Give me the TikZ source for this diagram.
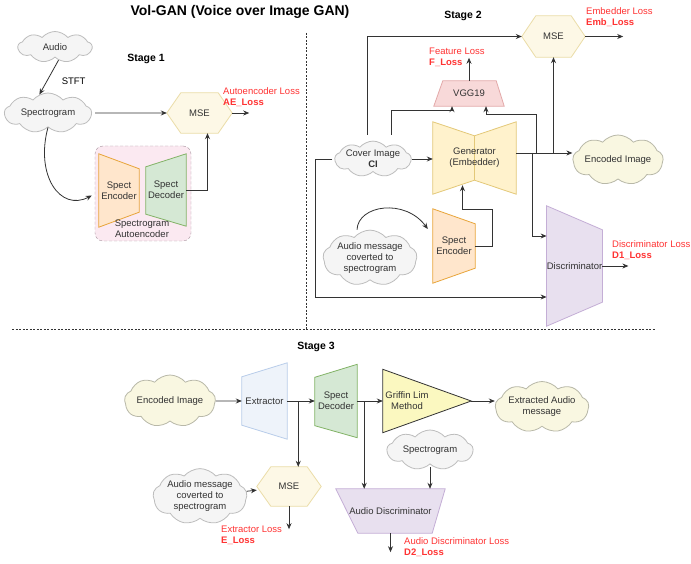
\documentclass[tikz,border=0pt]{standalone}
\usepackage{fontspec}
\setmainfont{Liberation Sans}
\usepackage{xcolor}
\usepackage{tikz}
\usetikzlibrary{shapes,arrows.meta,positioning,calc,backgrounds}
\pgfdeclarelayer{paper}
\pgfsetlayers{paper,background,main}

\definecolor{txt}{HTML}{333333}
\definecolor{lossred}{HTML}{FF3333}
\definecolor{cloudfill}{HTML}{F5F5F5}
\definecolor{cloudline}{HTML}{BDBDBD}
\definecolor{imgfill}{HTML}{F9F7E1}
\definecolor{imgline}{HTML}{B8B8A8}
\definecolor{msefill}{HTML}{FDF8E6}
\definecolor{mseline}{HTML}{EBDDA8}
\definecolor{encfill}{HTML}{FFE6CC}
\definecolor{encline}{HTML}{E8A53A}
\definecolor{decfill}{HTML}{D5E8D4}
\definecolor{decline}{HTML}{82B366}
\definecolor{genfill}{HTML}{FFF2CC}
\definecolor{genline}{HTML}{E3C878}
\definecolor{vggfill}{HTML}{F8D9D9}
\definecolor{vggline}{HTML}{E3A9A9}
\definecolor{discfill}{HTML}{E8E0EF}
\definecolor{discline}{HTML}{C4AED6}
\definecolor{extfill}{HTML}{EEF3FA}
\definecolor{extline}{HTML}{B9CDEA}
\definecolor{glfill}{HTML}{FBF8C0}
\definecolor{boxfill}{HTML}{FBE9F1}
\definecolor{boxline}{HTML}{A8959F}

\begin{document}
\begin{tikzpicture}[x=1pt, y=-1pt, font=\fontsize{9.5}{11}\selectfont, text=txt,
    arr/.style={draw=txt, line width=0.8pt, -{Stealth[length=6pt,width=5pt]}},
    cloudbox/.style={cloud, cloud puffs=9, cloud puff arc=100, cloud ignores aspect, draw=cloudline, fill=cloudfill, line width=0.8pt, inner sep=0pt, align=center},
    imgcloud/.style={cloudbox, fill=imgfill, draw=imgline},
    block/.style={inner sep=0pt, align=center},
    loss/.style={anchor=west, align=left, text=lossred, inner sep=0pt},
    stage/.style={font=\fontsize{10.5}{12}\selectfont\bfseries, text=black},
    sep/.style={draw=txt, line width=0.7pt, dash pattern=on 2pt off 1.5pt},
    shapeline/.style={line width=0.8pt}]
    \begin{pgfonlayer}{paper}
        \path[fill=white, use as bounding box] (0,0) rectangle (691,564);
    \end{pgfonlayer}

    \node[font=\fontsize{14}{16}\selectfont\bfseries, text=black] (title) at (240,12) {Vol-GAN (Voice over Image GAN)};

    % separators between the stages
    \draw[sep] (306,33) -- (306,329);
    \draw[sep] (12,329) -- (656,329);

    % stage 1
    \node[stage] (st1) at (146,59) {Stage 1};
    \node[cloudbox, minimum width=74, minimum height=31] (audio1) at (55,47) {Audio};
    \node[cloudbox, minimum width=87, minimum height=40] (spec1) at (48,113) {Spectrogram};
    \node[block, minimum width=65, minimum height=40] (mse1) at (199.5,113) {MSE};
    \node[loss] (aeloss) at (223,97.5) {Autoencoder Loss\\\textbf{AE\_Loss}};
    \node[block, minimum width=40, minimum height=73] (enc1) at (119,190.5) {Spect\\Encoder};
    \node[block, minimum width=40, minimum height=72] (dec1) at (166,190) {Spect\\Decoder};
    \node[block] (aetext) at (142,229) {Spectrogram\\Autoencoder};

    % stage 2
    \node[stage] (st2) at (463,16) {Stage 2};
    \node[block, minimum width=63, minimum height=41] (mse2) at (553.5,36.5) {MSE};
    \node[loss] (embloss) at (586,17.5) {Embedder Loss\\\textbf{Emb\_Loss}};
    \node[block, minimum width=70, minimum height=25] (vgg) at (469,93.5) {VGG19};
    \node[loss] (floss) at (429,57.5) {Feature Loss\\\textbf{F\_Loss}};
    \node[block, minimum width=83, minimum height=72] (gen) at (474.5,158) {Generator\\(Embedder)};
    \node[cloudbox, minimum width=75, minimum height=32] (cover) at (373,159) {Cover Image\\\textbf{CI}};
    \node[block, minimum width=42, minimum height=74] (enc2) at (454,246) {Spect\\Encoder};
    \node[cloudbox, minimum width=94, minimum height=52] (amsg2) at (370,258) {Audio message\\coverted to\\spectrogram};
    \node[imgcloud, minimum width=90, minimum height=50] (encimg2) at (618,160) {Encoded Image};
    \node[block, minimum width=55, minimum height=120] (disc) at (574.5,266) {Discriminator};
    \node[loss] (d1loss) at (612,250.5) {Discriminator Loss\\\textbf{D1\_Loss}};

    % stage 3
    \node[stage] (st3) at (316,347) {Stage 3};
    \node[imgcloud, minimum width=91, minimum height=52] (encimg3) at (170,401) {Encoded Image};
    \node[block, minimum width=45, minimum height=76] (ext) at (264.5,401) {Extractor};
    \node[block, minimum width=42, minimum height=73] (dec3) at (336,401) {Spect\\Decoder};
    \node[block, minimum width=48, minimum height=63] (gl) at (407,401) {Griffin Lim\\Method};
    \coordinate (glapex) at ($(gl.east)+(40,0)$);
    \node[imgcloud, minimum width=92, minimum height=51] (extr) at (542,407) {Extracted Audio\\message};
    \node[cloudbox, minimum width=86, minimum height=40] (spec3) at (430,450) {Spectrogram};
    \node[block, minimum width=109, minimum height=44] (adisc) at (390.5,511) {Audio Discriminator};
    \node[block, minimum width=64, minimum height=39] (mse3) at (289,486.5) {MSE};
    \node[cloudbox, minimum width=94, minimum height=53] (amsg3) at (200,496.5) {Audio message\\coverted to\\spectrogram};
    \node[loss] (eloss) at (221,535.5) {Extractor Loss\\\textbf{E\_Loss}};
    \node[loss] (d2loss) at (404,547.5) {Audio Discriminator Loss\\\textbf{D2\_Loss}};

    % block outlines go under the labels
    \begin{scope}[on background layer]
        \node[draw=boxline, fill=boxfill, dash pattern=on 3pt off 2pt, rounded corners=8pt, minimum width=96, minimum height=95] (aebox) at (143,193.5) {};
        \foreach \m in {mse1,mse2,mse3}
            \draw[shapeline, draw=mseline, fill=msefill] (\m.west) -- ($(\m.north west)+(14,0)$) -- ($(\m.north east)+(-14,0)$)
                -- (\m.east) -- ($(\m.south east)+(-14,0)$) -- ($(\m.south west)+(14,0)$) -- cycle;
        \foreach \e in {enc1,enc2}
            \draw[shapeline, draw=encline, fill=encfill] (\e.north west) -- ($(\e.north east)+(0,15)$) -- ($(\e.south east)+(0,-15)$) -- (\e.south west) -- cycle;
        \foreach \d in {dec1,dec3}
            \draw[shapeline, draw=decline, fill=decfill] (\d.north east) -- ($(\d.north west)+(0,13)$) -- ($(\d.south west)+(0,-12)$) -- (\d.south east) -- cycle;
        \draw[shapeline, draw=genline, fill=genfill] (gen.north west) -- ($(gen.north)+(0,14)$) -- (gen.north east) -- (gen.south east)
            -- ($(gen.south)+(0,-14)$) -- (gen.south west) -- cycle;
        \draw[shapeline, draw=genline] ($(gen.north)+(0,14)$) -- ($(gen.south)+(0,-14)$);
        \draw[shapeline, draw=vggline, fill=vggfill] (vgg.south west) -- ($(vgg.north west)+(9,0)$) -- ($(vgg.north east)+(-8,0)$) -- (vgg.south east) -- cycle;
        \draw[shapeline, draw=discline, fill=discfill] (disc.north west) -- ($(disc.north east)+(0,24)$) -- ($(disc.south east)+(0,-24)$) -- (disc.south west) -- cycle;
        \draw[shapeline, draw=extline, fill=extfill] (ext.north east) -- ($(ext.north west)+(0,14)$) -- ($(ext.south west)+(0,-14)$) -- (ext.south east) -- cycle;
        \draw[shapeline, draw=txt, fill=glfill] (gl.north west) -- (glapex) -- (gl.south west) -- cycle;
        \draw[shapeline, draw=discline, fill=discfill] (adisc.north west) -- (adisc.north east) -- ($(adisc.south east)+(-13,0)$) -- ($(adisc.south west)+(22,0)$) -- cycle;
    \end{scope}

    % stage 1 links
    \draw[arr] (audio1.285) -- node[pos=0.6, right=11pt, text=black] {STFT} (spec1.115);
    \draw[arr, shorten <=3pt] (spec1.east) -- (mse1.west);
    \draw[arr] (mse1.east) -- ++(17,0);
    \draw[arr] (spec1.south) .. controls (35,175) and (60,212) .. ($(enc1.west)+(-7,5)$);
    \draw[arr] (dec1.east) -| ($(mse1.south)+(8,0)$);

    % stage 2 links
    \coordinate (genout) at ($(gen.east)+(0,-5)$);
    \draw[arr] (cover.east) -- (cover.east -| gen.west);
    \draw[arr, shorten <=6pt] ($(cover.north)+(-6,0)$) |- (mse2.west);
    \draw[arr, shorten <=6pt] ($(cover.north)+(18,0)$) -- ++(0,-30) -| ($(vgg.south)+(-17,0)$);
    \draw[arr] (genout) -- (encimg2.west |- genout);
    \draw[arr] (genout -| mse2.south) -- (mse2.south);
    \draw[arr] ($(genout)+(20,0)$) -- ++(0,-39) -| ($(vgg.south)+(17,0)$);
    \draw[arr] ($(genout)+(16,0)$) |- ($(disc.west)+(0,-30)$);
    \draw[arr, shorten <=2pt] (cover.west) -- ++(-19,0) |- ($(disc.west)+(0,31)$);
    \draw[arr] (disc.east) -- ++(26,0);
    \draw[arr] (vgg.north) -- ++(0,-23);
    \draw[arr] (mse2.east) -- ++(38,0);
    \draw[arr] ($(amsg2.north)+(-13,0)$) .. controls (358,205) and (405,198) .. ($(enc2.west)+(-5,-17)$);
    \draw[arr] (enc2.east) -- ++(17,0) -- ++(0,-37) -| ($(gen.south)+(-12,-9)$);

    % stage 3 links
    \draw[arr] (encimg3.east) -- (ext.west);
    \draw[arr] (ext.east) -- (dec3.west);
    \draw[arr] (dec3.east) -- (gl.west);
    \draw[arr] (glapex) -- (extr.west |- glapex);
    \coordinate (j1) at ($(ext.east)!0.4!(dec3.west)$);
    \draw[arr] (j1) -- (j1 |- mse3.north);
    \coordinate (j2) at ($(dec3.east)+(7,0)$);
    \draw[arr] (j2) -- (j2 |- adisc.north);
    \draw[arr, shorten <=3pt] (spec3.south) -- (spec3.south |- adisc.north);
    \draw[arr] (amsg3) -- (mse3);
    \draw[arr] (mse3.south) -- ++(0,23);
    \draw[arr] (adisc.south) -- ++(0,19);
\end{tikzpicture}
\end{document}
